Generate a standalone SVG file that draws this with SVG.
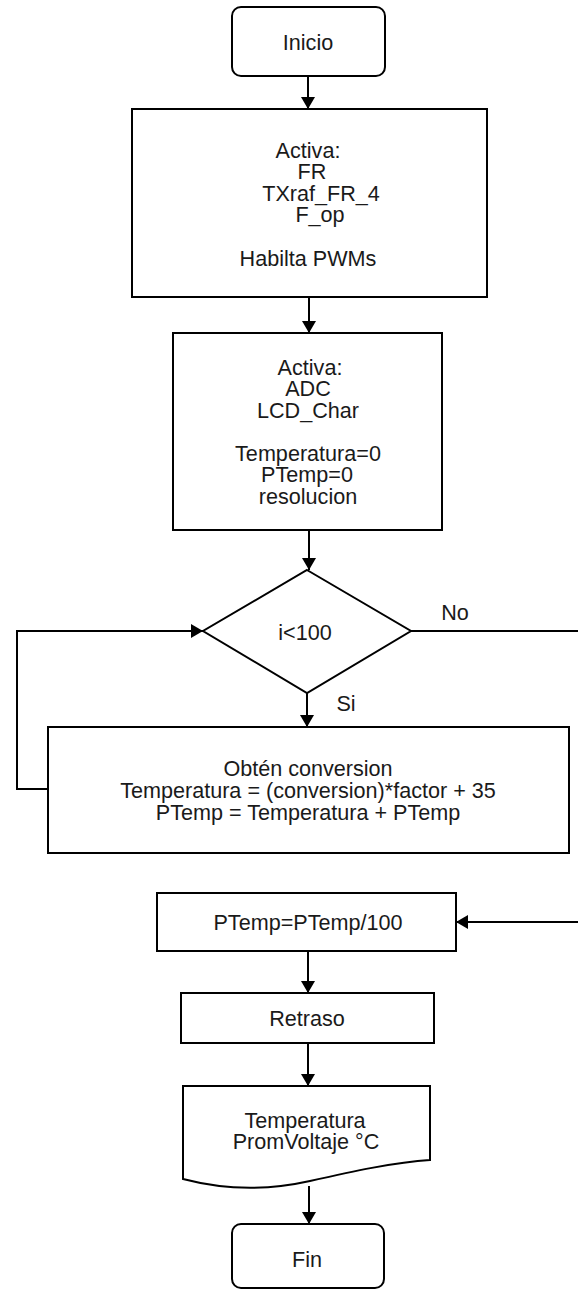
<svg xmlns="http://www.w3.org/2000/svg" width="578" height="1291" viewBox="0 0 578 1291">
  <style>
    .shape { fill: #ffffff; stroke: #000000; stroke-width: 2; }
    .conn { fill: none; stroke: #000000; stroke-width: 2; }
    text { font-family: "Liberation Sans", Arial, sans-serif; font-size: 21.6px; fill: #1a1a1a; text-anchor: middle; }
  </style>
  <defs>
    <marker id="arrow" viewBox="0 0 12 14" refX="12" refY="7" markerWidth="12" markerHeight="14" markerUnits="userSpaceOnUse" orient="auto">
      <path d="M0,0 L12,7 L0,14 Z" fill="#000000"/>
    </marker>
  </defs>
  <rect width="578" height="1291" fill="#ffffff"/>

  <g id="connectors">
    <path class="conn" d="M308,76 V109" marker-end="url(#arrow)"/>
    <path class="conn" d="M309,297 V333" marker-end="url(#arrow)"/>
    <path class="conn" d="M309,530 V570" marker-end="url(#arrow)"/>
    <path class="conn" d="M307,693 V727" marker-end="url(#arrow)"/>
    <path class="conn" d="M48,789 H17 V631 H203" marker-end="url(#arrow)"/>
    <path class="conn" d="M411,631 H600 V922 H456" marker-end="url(#arrow)"/>
    <path class="conn" d="M308,951 V993" marker-end="url(#arrow)"/>
    <path class="conn" d="M308,1043 V1086" marker-end="url(#arrow)"/>
    <path class="conn" d="M309,1186 V1224" marker-end="url(#arrow)"/>
    <text x="455" y="620">No</text>
    <text x="346" y="711">Si</text>
  </g>

  <g id="inicio">
    <rect class="shape" x="232" y="7" width="153" height="69" rx="9" ry="9"/>
    <text x="308" y="50">Inicio</text>
  </g>

  <g id="activa1">
    <rect class="shape" x="132" y="109" width="355" height="188"/>
    <text x="308" y="157.5">Activa:</text>
    <text x="312" y="179">FR</text>
    <text x="321" y="200.7">TXraf_FR_4</text>
    <text x="320" y="222.3">F_op</text>
    <text x="308" y="265.5">Habilta PWMs</text>
  </g>

  <g id="activa2">
    <rect class="shape" x="173" y="333" width="269" height="197"/>
    <text x="310" y="374.5">Activa:</text>
    <text x="308" y="396">ADC</text>
    <text x="308" y="417.5">LCD_Char</text>
    <text x="308" y="460.7">Temperatura=0</text>
    <text x="307" y="482.3">PTemp=0</text>
    <text x="308" y="504">resolucion</text>
  </g>

  <g id="decision">
    <polygon class="shape" points="307,570 411,631 307,693 203,631"/>
    <text x="305" y="639.5">i&lt;100</text>
  </g>

  <g id="conversion">
    <rect class="shape" x="48" y="727" width="521" height="126"/>
    <text x="308" y="775.5">Obtén conversion</text>
    <text x="308" y="797.5">Temperatura = (conversion)*factor + 35</text>
    <text x="308" y="819.5">PTemp = Temperatura + PTemp</text>
  </g>

  <g id="promedio">
    <rect class="shape" x="157" y="893" width="299" height="58"/>
    <text x="308" y="929.5">PTemp=PTemp/100</text>
  </g>

  <g id="retraso">
    <rect class="shape" x="181" y="993" width="253" height="50"/>
    <text x="307" y="1025.5">Retraso</text>
  </g>

  <g id="mostrar">
    <path class="shape" d="M183,1086 H430 V1160 C395,1162 350,1172 310,1181 C270,1190 225,1190 183,1179 Z"/>
    <text x="305" y="1127.5">Temperatura</text>
    <text x="306" y="1148.5">PromVoltaje °C</text>
  </g>

  <g id="fin">
    <rect class="shape" x="232" y="1224" width="152" height="64" rx="9" ry="9"/>
    <text x="307" y="1266.5">Fin</text>
  </g>
</svg>
